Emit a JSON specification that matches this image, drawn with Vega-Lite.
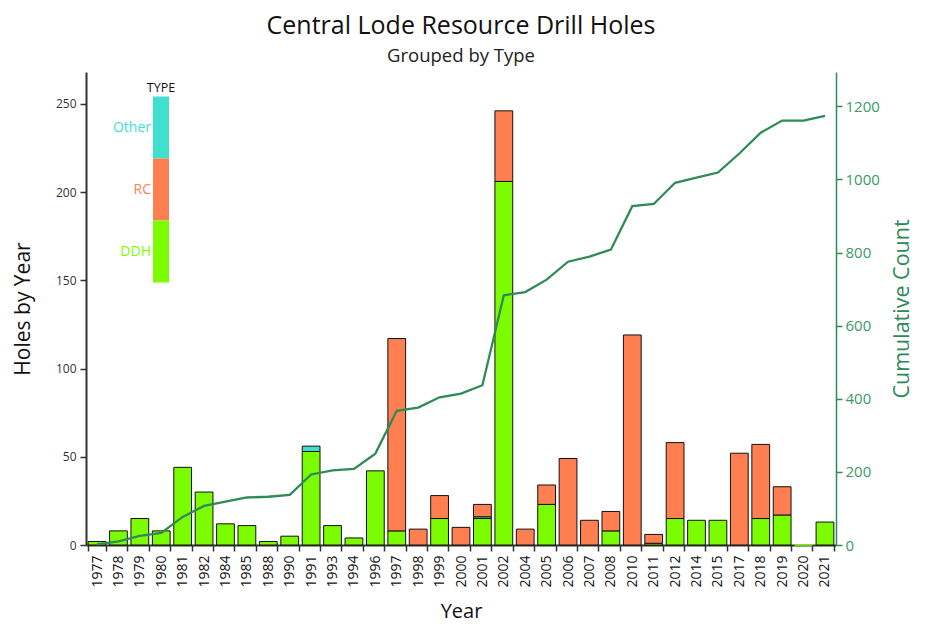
{
  "$schema": "https://vega.github.io/schema/vega-lite/v6.json",
  "width": 750,
  "height": 473,
  "autosize": "none",
  "padding": {"left": 86, "top": 72, "right": 98, "bottom": 92},
  "background": "white",
  "title": {
    "text": "Central Lode Resource Drill Holes",
    "subtitle": "Grouped by Type",
    "anchor": "middle",
    "frame": "group",
    "font": "Open Sans",
    "fontSize": 25,
    "fontWeight": "normal",
    "color": "#111111",
    "subtitleFont": "Open Sans",
    "subtitleFontSize": 18.5,
    "subtitleColor": "#222222",
    "subtitlePadding": 8,
    "offset": 7
  },
  "datasets": {
    "holes": [
      {"year": "1977", "type": "DDH", "count": 2},
      {"year": "1978", "type": "DDH", "count": 8},
      {"year": "1979", "type": "DDH", "count": 15},
      {"year": "1980", "type": "DDH", "count": 8},
      {"year": "1981", "type": "DDH", "count": 44},
      {"year": "1982", "type": "DDH", "count": 30},
      {"year": "1984", "type": "DDH", "count": 12},
      {"year": "1985", "type": "DDH", "count": 11},
      {"year": "1988", "type": "DDH", "count": 2},
      {"year": "1990", "type": "DDH", "count": 5},
      {"year": "1991", "type": "DDH", "count": 53},
      {"year": "1991", "type": "Other", "count": 3},
      {"year": "1993", "type": "DDH", "count": 11},
      {"year": "1994", "type": "DDH", "count": 4},
      {"year": "1996", "type": "DDH", "count": 42},
      {"year": "1997", "type": "DDH", "count": 8},
      {"year": "1997", "type": "RC", "count": 109},
      {"year": "1998", "type": "RC", "count": 9},
      {"year": "1999", "type": "DDH", "count": 15},
      {"year": "1999", "type": "RC", "count": 13},
      {"year": "2000", "type": "RC", "count": 10},
      {"year": "2001", "type": "DDH", "count": 15},
      {"year": "2001", "type": "Other", "count": 1},
      {"year": "2001", "type": "RC", "count": 7},
      {"year": "2002", "type": "DDH", "count": 206},
      {"year": "2002", "type": "RC", "count": 40},
      {"year": "2004", "type": "RC", "count": 9},
      {"year": "2005", "type": "DDH", "count": 23},
      {"year": "2005", "type": "RC", "count": 11},
      {"year": "2006", "type": "RC", "count": 49},
      {"year": "2007", "type": "RC", "count": 14},
      {"year": "2008", "type": "DDH", "count": 8},
      {"year": "2008", "type": "RC", "count": 11},
      {"year": "2010", "type": "RC", "count": 119},
      {"year": "2011", "type": "DDH", "count": 1},
      {"year": "2011", "type": "RC", "count": 5},
      {"year": "2012", "type": "DDH", "count": 15},
      {"year": "2012", "type": "RC", "count": 43},
      {"year": "2014", "type": "DDH", "count": 14},
      {"year": "2015", "type": "DDH", "count": 14},
      {"year": "2017", "type": "RC", "count": 52},
      {"year": "2018", "type": "DDH", "count": 15},
      {"year": "2018", "type": "RC", "count": 42},
      {"year": "2019", "type": "DDH", "count": 17},
      {"year": "2019", "type": "RC", "count": 16},
      {"year": "2020", "type": "DDH", "count": 0},
      {"year": "2021", "type": "DDH", "count": 13}
    ],
    "cumulative": [
      {"year": "1977", "cum": 2},
      {"year": "1978", "cum": 10},
      {"year": "1979", "cum": 25},
      {"year": "1980", "cum": 33},
      {"year": "1981", "cum": 77},
      {"year": "1982", "cum": 107},
      {"year": "1984", "cum": 119},
      {"year": "1985", "cum": 130},
      {"year": "1988", "cum": 132},
      {"year": "1990", "cum": 137},
      {"year": "1991", "cum": 193},
      {"year": "1993", "cum": 204},
      {"year": "1994", "cum": 208},
      {"year": "1996", "cum": 250},
      {"year": "1997", "cum": 367},
      {"year": "1998", "cum": 376},
      {"year": "1999", "cum": 404},
      {"year": "2000", "cum": 414},
      {"year": "2001", "cum": 437},
      {"year": "2002", "cum": 683},
      {"year": "2004", "cum": 692},
      {"year": "2005", "cum": 726},
      {"year": "2006", "cum": 775},
      {"year": "2007", "cum": 789},
      {"year": "2008", "cum": 808},
      {"year": "2010", "cum": 927},
      {"year": "2011", "cum": 933},
      {"year": "2012", "cum": 991},
      {"year": "2014", "cum": 1005},
      {"year": "2015", "cum": 1019},
      {"year": "2017", "cum": 1071},
      {"year": "2018", "cum": 1128},
      {"year": "2019", "cum": 1161},
      {"year": "2020", "cum": 1161},
      {"year": "2021", "cum": 1174}
    ]
  },
  "layer": [
    {
      "data": {"name": "holes"},
      "mark": {"type": "bar", "strokeWidth": 1},
      "encoding": {
        "x": {
          "field": "year",
          "type": "ordinal",
          "scale": {"paddingInner": 0.17, "paddingOuter": 0.1},
          "axis": {
            "title": "Year",
            "titleFont": "Open Sans",
            "titleFontSize": 20,
            "titleFontWeight": "normal",
            "titleColor": "#111111",
            "titlePadding": 14,
            "labelAngle": -90,
            "labelAlign": "right",
            "labelBaseline": "middle",
            "labelFont": "Open Sans",
            "labelFontSize": 14,
            "labelColor": "#111111",
            "labelPadding": 4,
            "tickBand": "extent",
            "tickSize": 6,
            "tickColor": "#333333",
            "tickWidth": 1.5,
            "domainColor": "#333333",
            "domainWidth": 2
          }
        },
        "y": {
          "field": "count",
          "type": "quantitative",
          "stack": "zero",
          "scale": {"domain": [0, 268], "nice": false},
          "axis": {
            "title": "Holes by Year",
            "titleFont": "Open Sans",
            "titleFontSize": 21,
            "titleFontWeight": "normal",
            "titleColor": "#111111",
            "titlePadding": 22,
            "values": [0, 50, 100, 150, 200, 250],
            "labelFont": "Open Sans",
            "labelFontSize": 12,
            "labelColor": "#333333",
            "labelPadding": 4,
            "tickSize": 6,
            "tickColor": "#333333",
            "tickWidth": 1.5,
            "domainColor": "#333333",
            "domainWidth": 2,
            "grid": false
          }
        },
        "color": {
          "field": "type",
          "type": "nominal",
          "scale": {"domain": ["Other", "RC", "DDH"], "range": ["#40E0D0", "#FF7F50", "#7CFC00"]},
          "legend": {
            "title": "TYPE",
            "orient": "none",
            "legendX": 61,
            "legendY": 10,
            "padding": 0,
            "rowPadding": 0,
            "symbolType": "M-1,-3.875H1V3.875H-1Z",
            "symbolSize": 256,
            "symbolStrokeWidth": 0,
            "symbolOpacity": 1,
            "labelAlign": "right",
            "labelBaseline": "middle",
            "labelOffset": -18,
            "labelFont": "Open Sans",
            "labelFontSize": 14,
            "labelColor": {"expr": "datum.value === 'Other' ? '#40E0D0' : datum.value === 'RC' ? '#FF7F50' : '#7CFC00'"},
            "titleFont": "Open Sans",
            "titleFontSize": 12.5,
            "titleFontWeight": "normal",
            "titleColor": "#111111",
            "titleAlign": "center",
            "titleAnchor": "middle",
            "titlePadding": 25
          }
        },
        "stroke": {
          "condition": {"test": "datum.count < 1", "value": "#7CFC00"},
          "value": "#111111"
        },
        "order": {"field": "type", "sort": "ascending"}
      }
    },
    {
      "data": {"name": "cumulative"},
      "mark": {"type": "line", "color": "#2E8B57", "strokeWidth": 2.3},
      "encoding": {
        "x": {"field": "year", "type": "ordinal"},
        "y": {
          "field": "cum",
          "type": "quantitative",
          "scale": {"domain": [0, 1294], "nice": false},
          "axis": {
            "orient": "right",
            "title": "Cumulative Count",
            "titleFont": "Open Sans",
            "titleFontSize": 21.5,
            "titleFontWeight": "normal",
            "titleColor": "#2E8B57",
            "titleAngle": 270,
            "titlePadding": 34,
            "format": "d",
            "values": [0, 200, 400, 600, 800, 1000, 1200],
            "labelFont": "Open Sans",
            "labelFontSize": 15,
            "labelColor": "#3a9a68",
            "labelPadding": 3,
            "tickSize": 6,
            "tickColor": "#2E8B57",
            "tickWidth": 1.5,
            "domainColor": "#2E8B57",
            "domainWidth": 1.5,
            "grid": false
          }
        }
      }
    }
  ],
  "resolve": {"scale": {"y": "independent"}},
  "config": {"view": {"stroke": null}, "font": "Open Sans"}
}
